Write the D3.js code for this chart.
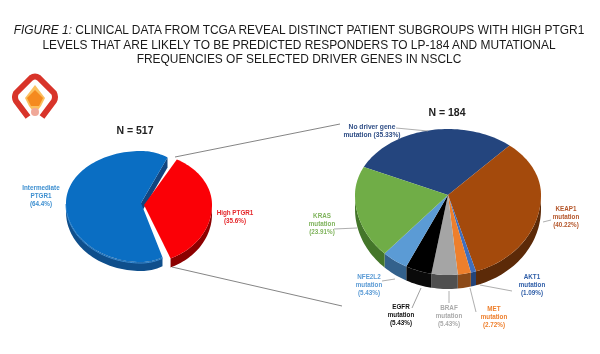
<!DOCTYPE html>
<html>
<head>
<meta charset="utf-8">
<script src="https://cdn.jsdelivr.net/npm/d3@7"></script>
<style>
html, body { margin: 0; padding: 0; background: #fff; }
svg { display: block; filter: blur(0.35px); }
text { font-family: "Liberation Sans", Arial, sans-serif; }
</style>
</head>
<body>
<div id="chart"></div>
<script>
// left pie
var ptgrLabels = ["Intermediate PTGR1", "High PTGR1"];
var ptgrValues = [64.4, 35.6];

// right pie, percentages add up to more than 100 in the source
var driverLabels = ["No driver gene mutation", "KEAP1 mutation", "AKT1 mutation", "MET mutation", "BRAF mutation", "EGFR mutation", "NFE2L2 mutation", "KRAS mutation"];
var driverValues = [35.33, 40.22, 1.09, 2.72, 5.43, 5.43, 5.43, 23.91];
var driverValueText = ["35.33%", "40.22%", "1.09%", "2.72%", "5.43%", "5.43%", "5.43%", "23.91%"];

var titleLines = [
    "CLINICAL DATA FROM TCGA REVEAL DISTINCT PATIENT SUBGROUPS WITH HIGH PTGR1",
    "LEVELS THAT ARE LIKELY TO BE PREDICTED RESPONDERS TO LP-184 AND MUTATIONAL",
    "FREQUENCIES OF SELECTED DRIVER GENES IN NSCLC"
];

var svg = d3.select("#chart").append("svg")
    .attr("width", 600)
    .attr("height", 354)
    .attr("viewBox", "0 0 600 354");

var rad = Math.PI / 180;

// point on the tilted pie, front half is stretched a bit for the perspective
function project(p, a, lift) {
    var s = Math.sin(a), c = Math.cos(a);
    var rx = s > 0 && p.rxRight ? p.rxRight : p.rx;
    return [p.cx + rx * s, p.cy - (c > 0 ? p.ryBack : p.ryFront) * c + (lift || 0)];
}

function arcPoints(p, a0, a1, lift) {
    var n = Math.max(2, Math.ceil((a1 - a0) / (2 * rad)));
    return d3.range(n + 1).map(function(i) {
        return project(p, a0 + (a1 - a0) * i / n, lift);
    });
}

var line = d3.line();

function drawSlice(g, p, a0, a1, color, sideColor, rimColor) {
    // the pie can start past a full turn, bring it back before looking for the front
    if (a0 >= 360 * rad) {
        a0 -= 360 * rad;
        a1 -= 360 * rad;
    }
    // outer wall, only the front part shows
    var from = Math.max(a0, 90 * rad), to = Math.min(a1, 270 * rad);
    if (from < to) {
        var top = arcPoints(p, from, to, 0);
        var bottom = arcPoints(p, from, to, p.depth).reverse();
        g.append("path").attr("d", line(top.concat(bottom)) + "Z").attr("fill", sideColor);
        if (rimColor) {
            g.append("path").attr("d", line(arcPoints(p, from, to, 1))).attr("fill", "none")
                .attr("stroke", rimColor).attr("stroke-width", 1);
        }
    }
    var face = [[p.cx, p.cy]].concat(arcPoints(p, a0, a1, 0));
    g.append("path").attr("d", line(face) + "Z").attr("fill", color);
}

// wall along the cut edge left open by the pulled out slice
function drawCut(g, p, a, color, depth) {
    var o = project(p, a, 0);
    g.append("path")
        .attr("d", line([[p.cx, p.cy], o, [o[0], o[1] + depth], [p.cx, p.cy + depth]]) + "Z")
        .attr("fill", color);
}

function addLabel(x, y, lines, color, size) {
    var t = svg.append("text")
        .attr("x", x).attr("y", y)
        .attr("text-anchor", "middle")
        .attr("font-size", size || 6.3)
        .attr("font-weight", "bold")
        .attr("fill", color);
    lines.forEach(function(s, i) {
        t.append("tspan").attr("x", x).attr("dy", i ? 8 : 0).text(s);
    });
}

function leader(a, b, color, w) {
    svg.append("path").attr("d", line([a, b])).attr("fill", "none")
        .attr("stroke", color).attr("stroke-width", w || 0.8);
}

// title
var title = svg.append("g").attr("text-anchor", "middle").attr("fill", "#1a1a1a").attr("font-size", 11.93);
var first = title.append("text").attr("x", 299).attr("y", 34);
first.append("tspan").attr("font-style", "italic").text("FIGURE 1: ");
first.append("tspan").text(titleLines[0]);
title.append("text").attr("x", 299).attr("y", 49).text(titleLines[1]);
title.append("text").attr("x", 299).attr("y", 63).text(titleLines[2]);

// logo
var logo = svg.append("g").attr("transform", "translate(35,97)");
logo.append("path").attr("d", "M-7,20 L-19,4 Q-21,0 -19,-4 L-4,-19 Q0,-22 4,-19 L19,-4 Q21,0 19,4 L7,20")
    .attr("fill", "none").attr("stroke", "#d8342a").attr("stroke-width", 6).attr("stroke-linejoin", "round");
logo.append("path").attr("d", "M0,-12 L10,1 L6,9 L0,17 L-6,9 L-10,1 Z").attr("fill", "#fbbf5e");
logo.append("path").attr("d", "M0,-7 L8,1 L4,9 L-4,9 L-8,1 Z").attr("fill", "#f58a1f");
logo.append("circle").attr("cx", 0).attr("cy", 15).attr("r", 4).attr("fill", "#f0a898");

// big leader lines between the two pies
leader([175, 157], [340, 124], "#777", 0.9);
leader([172, 267], [342, 306], "#777", 0.9);

// left pie
var ptgrPie = d3.pie().sort(null).startAngle(157 * rad).endAngle(517 * rad)(ptgrValues);
var blue = {cx: 141, cy: 203, rx: 75, rxRight: 55, ryBack: 52, ryFront: 59, depth: 9};
var red = {cx: 144, cy: 205, rx: 68, ryBack: 52, ryFront: 58, depth: 9};
var left = svg.append("g");
drawCut(left, blue, ptgrPie[0].endAngle, "#12457f", 10);
drawSlice(left, blue, ptgrPie[0].startAngle, ptgrPie[0].endAngle, "#0a6ec3", "#0f4f8c", "#3d8fd6");
drawSlice(left, red, ptgrPie[1].startAngle, ptgrPie[1].endAngle, "#fb0006", "#8c0000");

addLabel(41, 190, ["Intermediate", "PTGR1", "(64.4%)"], "#3d8fd0");
addLabel(235, 215, ["High PTGR1", "(35.6%)"], "#e5262a");

svg.append("text").attr("x", 135).attr("y", 134).attr("text-anchor", "middle")
    .attr("font-size", 10.5).attr("font-weight", "bold").attr("fill", "#222").text("N = 517");

// right pie
var driverColors = ["#24457e", "#a44a0c", "#3f6fbf", "#ee7f2c", "#a5a5a5", "#000000", "#5b9bd5", "#70ad47"];
var driverSides = ["#142a50", "#5c2a08", "#23447a", "#8c4a18", "#505050", "#0a0a0a", "#33618c", "#44762a"];
var driverPie = d3.pie().sort(null).startAngle(-65 * rad).endAngle(295 * rad)(driverValues);
var drivers = {cx: 448, cy: 195, rx: 93, ryBack: 66, ryFront: 80, depth: 14};
var right = svg.append("g");
driverPie.forEach(function(d, i) {
    drawSlice(right, drivers, d.startAngle, d.endAngle, driverColors[i], driverSides[i]);
});

leader([396, 128], [428, 131], "#999");
leader([543, 222], [551, 220], "#999");
leader([334, 229], [357, 228], "#999");
leader([382, 281], [395, 279], "#999");
leader([412, 308], [421, 288], "#888");
leader([449, 291], [449, 303], "#999");
leader([470, 288], [476, 312], "#999");
leader([480, 285], [512, 291], "#999");

function driverLines(i) {
    var words = driverLabels[i].split(" ");
    return [words[0], words[1], "(" + driverValueText[i] + ")"];
}
addLabel(372, 129, ["No driver gene", "mutation (" + driverValueText[0] + ")"], "#2f4e86", 6.7);
addLabel(566, 211, driverLines(1), "#b5562a");
addLabel(532, 279, driverLines(2), "#2f5ea8");
addLabel(494, 311, driverLines(3), "#ee7f2c");
addLabel(449, 310, driverLines(4), "#aaaaaa");
addLabel(401, 309, driverLines(5), "#111111");
addLabel(369, 279, driverLines(6), "#5b9bd5");
addLabel(322, 218, driverLines(7), "#7fb35c");

svg.append("text").attr("x", 447).attr("y", 116).attr("text-anchor", "middle")
    .attr("font-size", 10.5).attr("font-weight", "bold").attr("fill", "#222").text("N = 184");
</script>
</body>
</html>
